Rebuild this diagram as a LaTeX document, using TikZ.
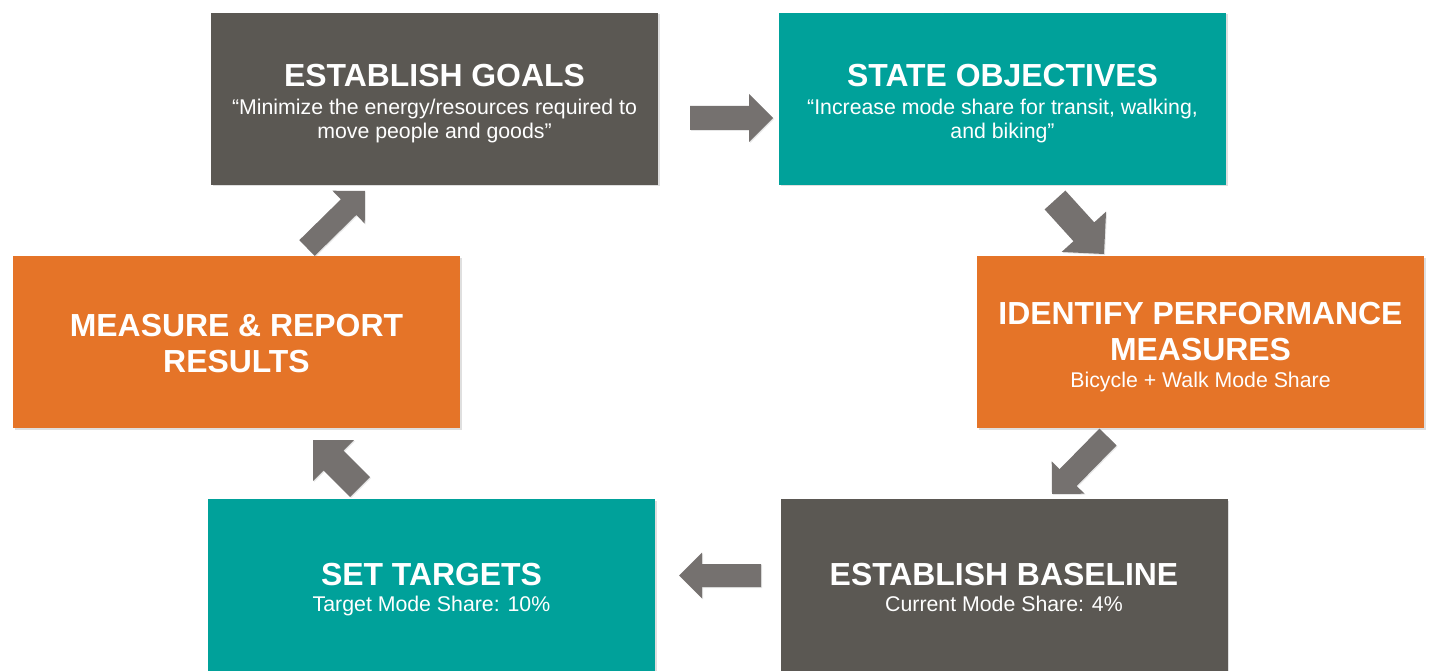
\documentclass[tikz,border=0pt]{standalone}
\usepackage{fontspec}
\setmainfont{Liberation Sans}
\usetikzlibrary{shadows,calc}
\definecolor{dgray}{HTML}{5B5853}
\definecolor{teal1}{HTML}{00A19A}
\definecolor{orng}{HTML}{E57428}
\definecolor{agray}{HTML}{75716F}
\newcommand\blockarrow[4]{% tail, tip, shaft half width, head half width
  \fill[agray, drop shadow={shadow xshift=1pt,shadow yshift=-1pt,opacity=.2}]
    ($(#1)!#3pt!90:(#2)$) --
    ($($(#2)!#4pt!(#1)$)!#3pt!-90:(#1)$) --
    ($($(#2)!#4pt!(#1)$)!#4pt!-90:(#1)$) --
    (#2) --
    ($($(#2)!#4pt!(#1)$)!#4pt!90:(#1)$) --
    ($($(#2)!#4pt!(#1)$)!#3pt!90:(#1)$) --
    ($(#1)!#3pt!-90:(#2)$) -- cycle;}
\begin{document}
\begin{tikzpicture}[x=1pt,y=-1pt,
  box/.style={rectangle, inner sep=0pt, minimum width=447pt, minimum height=172pt,
    drop shadow={shadow xshift=1.5pt,shadow yshift=-1.5pt,opacity=.25}},
  ttl/.style={anchor=base, text=white, font=\fontsize{31.9}{36}\selectfont\bfseries, inner sep=0pt},
  sub/.style={anchor=base, text=white, font=\fontsize{21.3}{24}\selectfont, inner sep=0pt}]
\useasboundingbox (0,0) rectangle (1429,671);
% boxes
\node[box, fill=dgray] (goals) at (434.5,99) {};
\node[box, fill=teal1] (obj) at (1002.5,99) {};
\node[box, fill=orng] (ident) at (1200.5,342) {};
\node[box, fill=dgray] (base) at (1004,585) {};
\node[box, fill=teal1] (targ) at (431.5,585) {};
\node[box, fill=orng] (meas) at (236.5,342) {};
% texts
\node[ttl] (goals-t) at (434.5,87) {ESTABLISH GOALS};
\node[sub] (goals-s1) at (434.5,115) {“Minimize the energy/resources required to};
\node[sub] (goals-s2) at (434.5,139) {move people and goods”};
\node[ttl] (obj-t) at (1002.5,87) {STATE OBJECTIVES};
\node[sub] (obj-s1) at (1002.5,115) {“Increase mode share for transit, walking,};
\node[sub] (obj-s2) at (1002.5,139) {and biking”};
\node[ttl] (ident-t1) at (1200.5,324) {IDENTIFY PERFORMANCE};
\node[ttl] (ident-t2) at (1200.5,360) {MEASURES};
\node[sub] (ident-s) at (1200.5,387.5) {Bicycle + Walk Mode Share};
\node[ttl] (base-t) at (1004,585) {ESTABLISH BASELINE};
\node[sub] (base-s) at (1004,611.5) {Current Mode Share: 4\%};
\node[ttl] (targ-t) at (431.5,585) {SET TARGETS};
\node[sub] (targ-s) at (431.5,611.5) {Target Mode Share: 10\%};
\node[ttl] (meas-t1) at (236.5,336) {MEASURE \& REPORT};
\node[ttl] (meas-t2) at (236.5,372) {RESULTS};
% arrow end points
\coordinate (a1s) at (690,118);   \coordinate (a1e) at (773,118);
\coordinate (a2s) at (1055,200);  \coordinate (a2e) at (1104,254);
\coordinate (a3s) at (1108,437);  \coordinate (a3e) at (1052,494);
\coordinate (a4s) at (761,575.5); \coordinate (a4e) at (679,575.5);
\coordinate (a5s) at (360,487);   \coordinate (a5e) at (313,440);
\coordinate (a6s) at (307,248);   \coordinate (a6e) at (365,191);
\blockarrow{a1s}{a1e}{12}{24}
\blockarrow{a2s}{a2e}{14}{30}
\blockarrow{a3s}{a3e}{12}{23}
\blockarrow{a4s}{a4e}{11.5}{23}
\blockarrow{a5s}{a5e}{14}{29}
\blockarrow{a6s}{a6e}{11}{23}
\end{tikzpicture}
\end{document}
